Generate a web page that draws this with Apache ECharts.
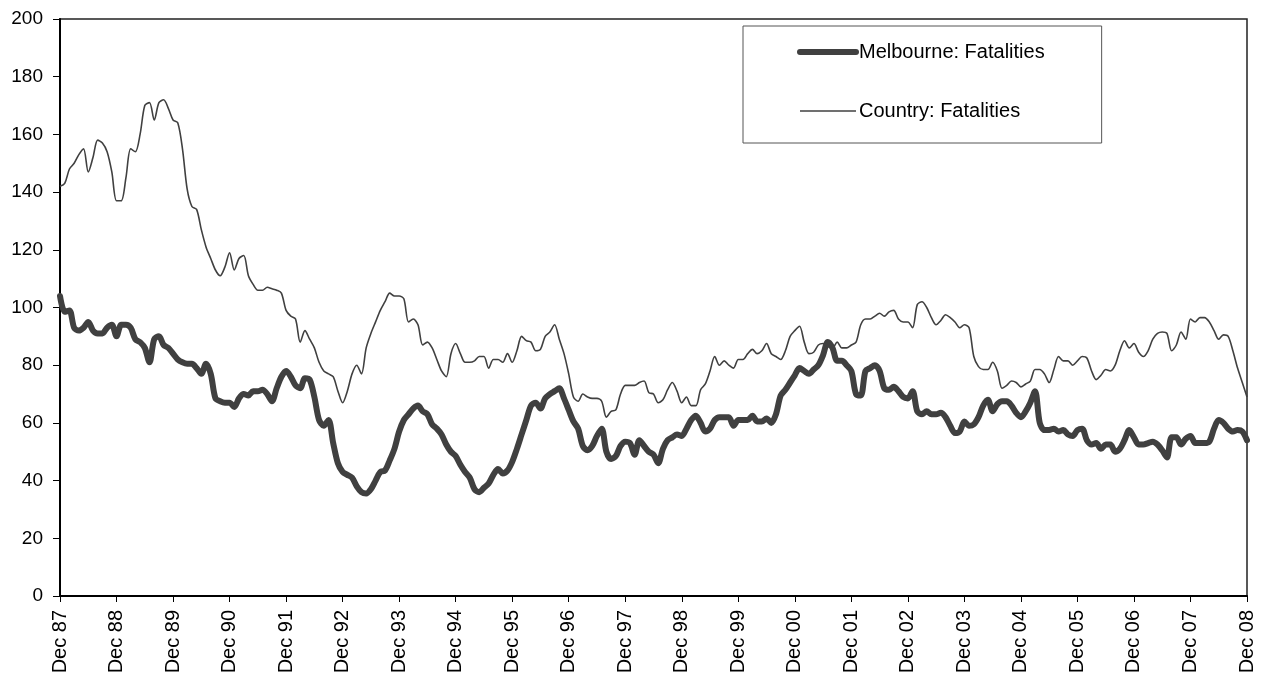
<!DOCTYPE html>
<html>
<head>
<meta charset="utf-8">
<title>Fatalities</title>
<script src="https://cdn.jsdelivr.net/npm/echarts@6/dist/echarts.min.js"></script>
<style>
  html, body { margin: 0; padding: 0; background: #fff; }
  #chart { width: 1264px; height: 684px; }
</style>
</head>
<body>
<div id="chart"></div>
<script>
  // monthly, Dec 87 .. Dec 08
  var monthNames = ['Jan', 'Feb', 'Mar', 'Apr', 'May', 'Jun', 'Jul', 'Aug', 'Sep', 'Oct', 'Nov', 'Dec'];
  var months = [];
  for (var i = 0; i <= 252; i++) {
    var mi = (11 + i) % 12;
    var yr = (87 + Math.floor((11 + i) / 12)) % 100;
    months.push(monthNames[mi] + ' ' + (yr < 10 ? '0' + yr : '' + yr));
  }

  var yTicks = [0, 20, 40, 60, 80, 100, 120, 140, 160, 180, 200];

  var melbourne = [
    104, 98.5, 99, 93, 92, 93, 95, 92, 91, 91, 93, 94,
    90, 94, 94, 93, 89, 88, 86, 81, 89, 90, 87, 86,
    84, 82, 81, 80.5, 80.5, 79, 77, 80.5, 77, 68.5, 67.5, 67,
    67, 65.5, 68.5, 70, 69.5, 71, 71, 71.5, 70, 67.5, 72, 76,
    78, 76, 73, 72, 75.5, 75, 69, 61, 59, 61, 53, 46,
    43, 42, 41, 38, 36, 35.5, 37, 40, 43, 43.5, 47, 51,
    57, 61, 63, 65, 66, 64, 63, 59.5, 58, 56, 52.5, 50,
    48.5, 45.5, 43, 41, 37, 36, 37.5, 39, 42, 44, 42.5, 43.5,
    46.5, 51, 56, 61, 66, 67, 65, 68.5, 70, 71, 72, 68.5,
    64.5, 60.5, 58, 52, 50.5, 52, 55.5, 58, 50, 47.5, 48.5, 52,
    53.5, 53, 49, 54, 52, 50, 49, 46, 51, 54, 55, 56,
    55.5, 58, 61, 62.5, 60, 57, 58, 61, 62, 62, 62, 59,
    61, 61, 61, 62.5, 60.5, 60.5, 61.5, 60, 63, 69.5, 71.5, 74,
    76.5, 79, 78, 77, 78.5, 80, 83.5, 88, 86, 81.5, 81.5, 80,
    78, 70, 69.5, 78, 79, 80, 78, 72, 71.5, 72.5, 71, 69,
    68.5, 71, 64, 63, 64, 63, 63, 63.5, 62, 59, 56.5, 57,
    60.5, 59, 59.5, 62, 66, 68, 64, 66.5, 67.5, 67.5, 66, 63.5,
    62, 64, 67, 71, 60, 57.5, 57.5, 58, 57, 57.5, 56, 55.5,
    57.5, 58, 54, 52.5, 53, 51, 52.5, 52.5, 50, 51, 54, 57.5,
    55, 52.5, 52.5, 53, 53.5, 52.5, 50.5, 48, 55, 55, 52.5, 54.5,
    55.5, 53, 53, 53, 53.5, 58, 61, 60, 58, 57, 57.5, 57,
    54
  ];

  var country = [
    142, 143, 148, 150, 153, 155, 147, 152, 158, 157, 154, 147,
    137, 137, 145, 155, 154, 160, 170, 171, 165, 171, 172, 169,
    165, 164, 155, 141, 135, 134, 127, 121, 117, 113, 111, 114,
    119, 113, 117, 118, 111, 108, 106, 106, 107, 106.5, 106, 105,
    99, 97, 96, 88, 92, 89, 86, 81, 78, 77, 76, 71,
    67, 71, 77, 80, 77, 86, 91, 95, 99, 102, 105, 104,
    104, 103, 95, 96, 94, 87, 88, 86, 82, 78, 76, 84,
    87.5, 84, 81, 81, 81.5, 83, 83, 79, 82, 82, 81, 84,
    81, 85, 90, 88.5, 88, 85, 85.5, 90, 91.5, 94, 89, 84,
    77, 69, 67.5, 70, 69, 68.5, 68.5, 67.5, 62, 64, 64.5, 70,
    73, 73, 73, 74, 74.5, 70.5, 70, 67, 68, 71.5, 74, 71,
    67, 69, 66, 66, 71.5, 73.5, 78, 83, 80, 81.5, 80, 79,
    82, 82, 84, 85.5, 84, 85, 87.5, 84, 83, 82, 85, 90,
    92, 93.5, 88, 84, 84.5, 87, 87.5, 86.5, 86, 88, 86, 86,
    87, 88, 94, 96, 96, 97, 98, 97, 98.5, 99, 96, 95,
    95, 93, 101, 102, 100, 96.5, 94, 95.5, 97.5, 96.5, 95, 93,
    94, 93, 83, 79.5, 78.5, 78.5, 81, 78, 72, 73, 74.5, 74,
    72.5, 73.5, 74.5, 78.5, 78.5, 77, 74, 78.5, 83, 81.5, 81.5, 80,
    81.5, 83, 82.5, 78, 75, 76.5, 78.5, 78, 80, 85, 88.5, 86,
    87.5, 84.5, 83, 85, 89, 91, 91.5, 91, 85, 87, 91.5, 89,
    96, 95, 96.5, 96.5, 95, 92, 89, 90.5, 90, 85, 79, 74,
    69
  ];

  var seriesNames = ['Melbourne: Fatalities', 'Country: Fatalities'];

  var fontFam = '"Liberation Sans", Arial, sans-serif';
  var lineColor = '#404040';

  var myChart = echarts.init(document.getElementById('chart'), null, {renderer: 'canvas'});

  var option = {
    backgroundColor: '#fff',
    animation: false,
    grid: {
      left: 60, right: 17, top: 19, bottom: 88,
      show: true,
      borderColor: '#222',
      borderWidth: 1.5
    },
    legend: {
      orient: 'vertical',
      left: 743,
      top: 26,
      data: [
        {name: seriesNames[0], lineStyle: {width: 6, color: lineColor, cap: 'round'}},
        {name: seriesNames[1], lineStyle: {width: 1.6, color: lineColor}}
      ],
      itemWidth: 56,
      itemHeight: 20,
      itemGap: 39,
      padding: [16, 57, 22, 54],
      borderColor: '#555',
      borderWidth: 1,
      backgroundColor: '#fff',
      itemStyle: {color: 'rgba(0,0,0,0)', borderColor: 'rgba(0,0,0,0)', borderWidth: 0},
      textStyle: {fontFamily: fontFam, fontSize: 20, color: '#000', lineHeight: 20, padding: [0, 0, 0, -2]}
    },
    xAxis: {
      type: 'category',
      data: months,
      boundaryGap: false,
      axisLine: {lineStyle: {color: '#000', width: 2}},
      axisTick: {interval: 11, length: 6, lineStyle: {color: '#000', width: 1}},
      axisLabel: {
        interval: 11,
        rotate: 90,
        margin: 14,
        fontFamily: fontFam,
        fontSize: 20,
        color: '#000'
      },
      splitLine: {show: false}
    },
    yAxis: {
      type: 'value',
      min: yTicks[0],
      max: yTicks[yTicks.length - 1],
      interval: 20,
      axisLine: {show: true, lineStyle: {color: '#000', width: 2}},
      axisTick: {show: true, length: 7, lineStyle: {color: '#000', width: 1}},
      axisLabel: {margin: 17, fontFamily: fontFam, fontSize: 19, color: '#000'},
      splitLine: {show: false}
    },
    series: [
      {
        name: seriesNames[0],
        type: 'line',
        data: melbourne,
        symbol: 'none',
        smooth: 0.3,
        z: 3,
        lineStyle: {color: lineColor, width: 6, cap: 'round', join: 'round'},
        itemStyle: {color: lineColor}
      },
      {
        name: seriesNames[1],
        type: 'line',
        data: country,
        symbol: 'none',
        smooth: 0.3,
        z: 2,
        lineStyle: {color: lineColor, width: 1.6},
        itemStyle: {color: lineColor}
      }
    ]
  };

  option && myChart.setOption(option);
</script>
</body>
</html>
